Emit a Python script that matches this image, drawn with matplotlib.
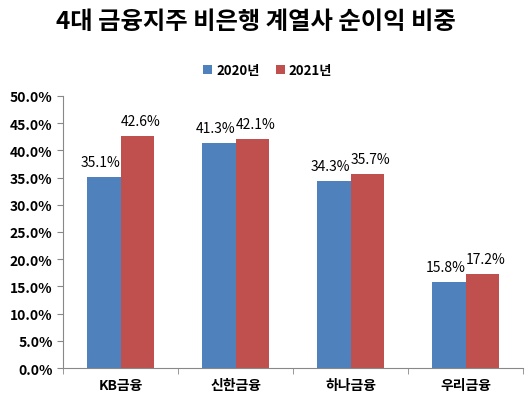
import matplotlib.pyplot as plt
import numpy as np
from matplotlib.ticker import FuncFormatter

plt.rcParams['font.family'] = ['Noto Sans CJK KR', 'DejaVu Sans']

categories = ['KB금융', '신한금융', '하나금융', '우리금융']
series_names = ['2020년', '2021년']
values_2020 = [35.1, 41.3, 34.3, 15.8]
values_2021 = [42.6, 42.1, 35.7, 17.2]
colors = ['#4F81BD', '#C0504D']

fig = plt.figure(figsize=(5.3, 4.02), dpi=100)
ax = fig.add_axes([0.119, 0.082, 0.868, 0.677])

x = np.arange(len(categories))
w = 0.29
b1 = ax.bar(x - w / 2, values_2020, w, color=colors[0], label=series_names[0])
b2 = ax.bar(x + w / 2, values_2021, w, color=colors[1], label=series_names[1])

for bars, shift in ((b1, -0.03), (b2, 0.03)):
    for r in bars:
        ax.text(r.get_x() + r.get_width() / 2 + shift, r.get_height() + 1.5,
                f'{r.get_height():.1f}%', ha='center', va='bottom', fontsize=10)

ax.set_ylim(0, 50)
ax.set_yticks(np.arange(0, 50.1, 5))
ax.yaxis.set_major_formatter(FuncFormatter(lambda v, p: f'{v:.1f}%'))
ax.set_xlim(-0.5, len(categories) - 0.5)
ax.set_xticks(x)
ax.set_xticklabels(categories, fontweight='bold', fontsize=10)
ax.set_xticks(np.arange(-0.5, len(categories)), minor=True)
ax.tick_params(axis='x', which='major', length=0, pad=7)
ax.tick_params(axis='x', which='minor', length=4, color='#888888')
ax.tick_params(axis='y', length=4, color='#888888', labelsize=10)
for lab in ax.get_yticklabels():
    lab.set_fontweight('bold')

for s in ['top', 'right']:
    ax.spines[s].set_visible(False)
for s in ['left', 'bottom']:
    ax.spines[s].set_color('#888888')

fig.text(0.482, 0.945, '4대 금융지주 비은행 계열사 순이익 비중', ha='center', va='center',
         fontsize=17.5, fontweight='bold')
fig.legend(loc='center', bbox_to_anchor=(0.505, 0.823), ncol=2, frameon=False,
           handlelength=0.7, handleheight=0.7, handletextpad=0.3, columnspacing=1.2,
           prop={'weight': 'bold', 'size': 9.5})

fig.savefig('out.png', dpi=100)
